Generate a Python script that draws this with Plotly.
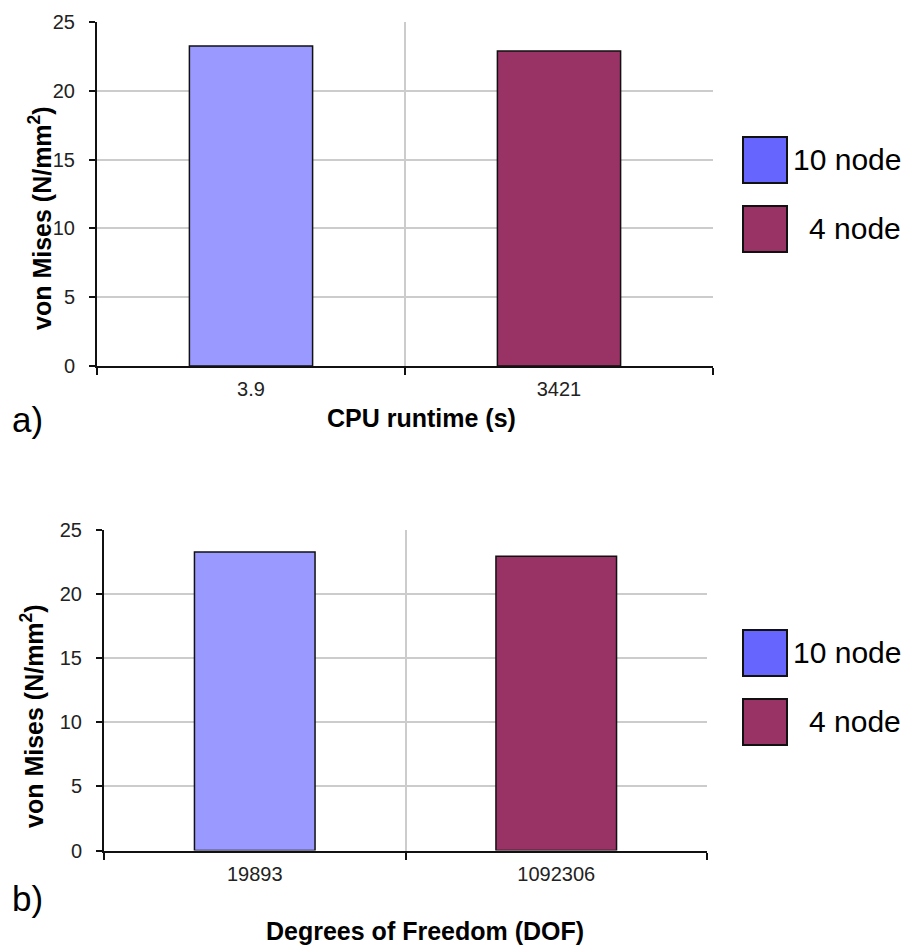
import plotly.graph_objects as go

# ---- data ----
series_names = ["10 node", "4 node"]
cpu_runtime_labels = ["3.9", "3421"]
dof_labels = ["19893", "1092306"]
von_mises_cpu = [23.26, 22.9]
von_mises_dof = [23.28, 22.95]
bar_colors = ["#9999FF", "#993366"]
legend_colors = ["#6666FF", "#993366"]
y_ticks = [0, 5, 10, 15, 20, 25]

W, H = 910, 945
OFF = 8  # page offset of the figure inside the window
FONT = "Liberation Sans, Arial, sans-serif"

def px(x):
    return (x - OFF) / W

def py(y):
    return 1 - (y - OFF) / H

fig = go.Figure()

fig.add_trace(go.Bar(x=cpu_runtime_labels, y=von_mises_cpu, marker=dict(color=bar_colors, line=dict(color="#111", width=1.5)),
                     width=0.4, showlegend=False, xaxis="x", yaxis="y"))
fig.add_trace(go.Bar(x=dof_labels, y=von_mises_dof, marker=dict(color=bar_colors, line=dict(color="#111", width=1.5)),
                     width=0.4, showlegend=False, xaxis="x2", yaxis="y2"))

common_x = dict(type="category", tickson="boundaries", range=[-0.5, 1.5], showgrid=True, gridcolor="#CCCCCC", gridwidth=1.5,
                showline=True, linecolor="#111", linewidth=2, ticks="outside", ticklen=7, tickcolor="#111", tickwidth=1.5,
                tickfont=dict(family=FONT, size=20, color="#222"), ticklabelstandoff=4, fixedrange=True, automargin=False)
common_y = dict(range=[0, 25], tickvals=y_ticks, showgrid=True, gridcolor="#CCCCCC", gridwidth=1.5, zeroline=False,
                showline=True, linecolor="#111", linewidth=2, ticks="outside", ticklen=6, tickcolor="#111", tickwidth=1.5,
                tickfont=dict(family=FONT, size=20, color="#222"), ticklabelstandoff=10, fixedrange=True, automargin=False)

fig.update_layout(
    width=W, height=H, margin=dict(l=0, r=0, t=0, b=0, pad=0, autoexpand=False),
    paper_bgcolor="white", plot_bgcolor="white", showlegend=False,
    xaxis=dict(domain=[px(97), px(713)], anchor="y", **common_x),
    yaxis=dict(domain=[py(366), py(22)], anchor="x", **common_y),
    xaxis2=dict(domain=[px(104), px(707)], anchor="y2", **common_x),
    yaxis2=dict(domain=[py(850.5), py(530)], anchor="x2", **common_y),
    bargap=0.6,
)

ann = []
title_font = dict(family=FONT, size=25, color="#000")
# y-axis titles
ann.append(dict(text="<b>von Mises (N/mm<sup>2</sup>)</b>", x=px(40), y=py(218), xref="paper", yref="paper",
                textangle=-90, showarrow=False, font=title_font, xanchor="center", yanchor="middle"))
ann.append(dict(text="<b>von Mises (N/mm<sup>2</sup>)</b>", x=px(32), y=py(716), xref="paper", yref="paper",
                textangle=-90, showarrow=False, font=title_font, xanchor="center", yanchor="middle"))
# x-axis titles
ann.append(dict(text="<b>CPU runtime (s)</b>", x=px(421), y=py(418), xref="paper", yref="paper",
                showarrow=False, font=title_font, xanchor="center", yanchor="middle"))
ann.append(dict(text="<b>Degrees of Freedom (DOF)</b>", x=px(425), y=py(931), xref="paper", yref="paper",
                showarrow=False, font=title_font, xanchor="center", yanchor="middle"))
# panel labels
ann.append(dict(text="a)", x=px(10), y=py(420), xref="paper", yref="paper", showarrow=False,
                font=dict(family=FONT, size=35, color="#000"), xanchor="left", yanchor="middle"))
ann.append(dict(text="b)", x=px(10), y=py(898), xref="paper", yref="paper", showarrow=False,
                font=dict(family=FONT, size=35, color="#000"), xanchor="left", yanchor="middle"))

shapes = []
legend_font = dict(family=FONT, size=30, color="#000")
for top_y in (137, 630):
    for i, name in enumerate(series_names):
        y0 = top_y + i * 69
        shapes.append(dict(type="rect", xref="paper", yref="paper", x0=px(743), x1=px(787), y0=py(y0 + 46), y1=py(y0),
                           fillcolor=legend_colors[i], line=dict(color="#111", width=2)))
        ann.append(dict(text=name, x=px(903), y=py(y0 + 22), xref="paper", yref="paper", showarrow=False,
                        font=legend_font, xanchor="right", yanchor="middle"))

fig.update_layout(annotations=ann, shapes=shapes)
fig.write_html("out.html")
